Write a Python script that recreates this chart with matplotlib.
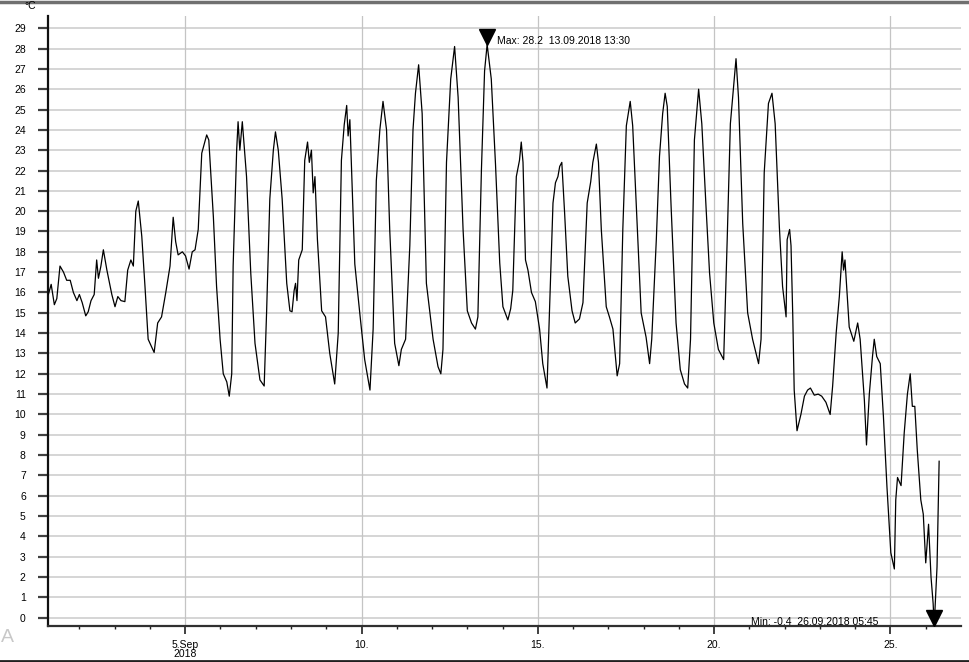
import matplotlib
matplotlib.use("Agg")
import matplotlib.pyplot as plt
from matplotlib.lines import Line2D

plt.rcParams['font.family'] = ['Liberation Sans', 'DejaVu Sans']

# time in fractional day-of-month (September 2018), temperature in °C
days = [1.12, 1.20, 1.29, 1.36, 1.45, 1.55, 1.64, 1.74, 1.83, 1.93, 2.00, 2.08, 2.18, 2.25, 2.33,
        2.42, 2.49, 2.54, 2.61, 2.68, 2.78, 2.92, 3.01, 3.09, 3.18, 3.29, 3.37, 3.46, 3.53, 3.60,
        3.67, 3.77, 3.86, 3.95, 4.03, 4.12, 4.22, 4.33, 4.45, 4.57, 4.66, 4.73, 4.80, 4.92, 5.01,
        5.11, 5.20, 5.28, 5.37, 5.47, 5.61, 5.67, 5.80, 5.89, 5.99, 6.08, 6.18, 6.25, 6.32, 6.36,
        6.46, 6.50, 6.55, 6.62, 6.74, 6.86, 6.98, 7.12, 7.24, 7.31, 7.40, 7.50, 7.56, 7.64, 7.75,
        7.88, 7.97, 8.03, 8.09, 8.13, 8.17, 8.22, 8.32, 8.39, 8.47, 8.52, 8.58, 8.63, 8.68, 8.75,
        8.87, 8.98, 9.10, 9.24, 9.34, 9.43, 9.51, 9.58, 9.62, 9.67, 9.81, 9.95, 10.09, 10.24, 10.33,
        10.42, 10.52, 10.61, 10.71, 10.80, 10.94, 11.06, 11.13, 11.25, 11.37, 11.46, 11.53, 11.62,
        11.72, 11.84, 12.03, 12.17, 12.25, 12.31, 12.41, 12.53, 12.64, 12.74, 12.88, 13.00, 13.12,
        13.23, 13.30, 13.40, 13.49, 13.5625, 13.68, 13.80, 13.92, 14.01, 14.15, 14.23, 14.29, 14.39,
        14.48, 14.53, 14.58, 14.65, 14.72, 14.82, 14.93, 15.05, 15.14, 15.26, 15.33, 15.43, 15.50,
        15.57, 15.62, 15.68, 15.76, 15.85, 15.97, 16.06, 16.18, 16.28, 16.40, 16.50, 16.56, 16.66,
        16.72, 16.80, 16.94, 17.03, 17.13, 17.25, 17.32, 17.41, 17.51, 17.62, 17.69, 17.79, 17.93,
        18.07, 18.17, 18.23, 18.36, 18.45, 18.54, 18.61, 18.67, 18.78, 18.92, 19.04, 19.16, 19.25,
        19.33, 19.44, 19.56, 19.65, 19.77, 19.87, 19.99, 20.12, 20.27, 20.37, 20.46, 20.56, 20.62,
        20.69, 20.81, 20.95, 21.09, 21.26, 21.33, 21.42, 21.54, 21.64, 21.73, 21.85, 21.94, 22.04,
        22.07, 22.14, 22.18, 22.23, 22.27, 22.35, 22.46, 22.56, 22.65, 22.73, 22.84, 22.95, 23.05,
        23.17, 23.29, 23.36, 23.46, 23.55, 23.63, 23.67, 23.71, 23.83, 23.96, 24.07, 24.14, 24.26,
        24.32, 24.40, 24.49, 24.54, 24.61, 24.71, 24.80, 24.90, 25.01, 25.11, 25.15, 25.20, 25.30,
        25.39, 25.48, 25.56, 25.62, 25.69, 25.76, 25.86, 25.93, 26.00, 26.08, 26.15, 26.21, 26.24,
        26.32, 26.38]
temps = [15.9, 16.4, 15.4, 15.7, 17.3, 17.0, 16.6, 16.6, 16.0, 15.6, 15.9, 15.5, 14.85, 15.05, 15.6,
         15.9, 17.6, 16.7, 17.3, 18.1, 17.1, 15.9, 15.3, 15.8, 15.6, 15.55, 17.1, 17.6, 17.3, 20.0,
         20.5, 18.75, 16.3, 13.7, 13.4, 13.05, 14.5, 14.8, 16.0, 17.3, 19.7, 18.5, 17.85, 18.0, 17.8,
         17.15, 18.0, 18.1, 19.1, 22.85, 23.75, 23.5, 19.7, 16.3, 13.7, 12.0, 11.6, 10.9, 12.0, 17.3,
         23.0, 24.4, 23.0, 24.4, 21.7, 16.95, 13.5, 11.7, 11.4, 15.1, 20.6, 23.0, 23.9, 23.0, 20.6,
         16.45, 15.1, 15.05, 16.1, 16.45, 15.6, 17.6, 18.1, 22.5, 23.4, 22.4, 23.0, 20.9, 21.7, 18.6,
         15.1, 14.8, 13.0, 11.5, 14.0, 22.5, 24.25, 25.2, 23.7, 24.5, 17.4, 15.0, 12.7, 11.2, 14.2,
         21.5, 24.0, 25.4, 24.0, 19.1, 13.5, 12.4, 13.2, 13.7, 18.3, 24.0, 25.8, 27.2,
         24.8, 16.45, 13.7, 12.35, 12.0, 13.2, 22.4, 26.5, 28.1, 25.6, 19.1, 15.1, 14.5,
         14.2, 14.8, 22.0, 26.9, 28.2, 26.5, 22.3, 17.45, 15.3, 14.65, 15.2, 16.1, 21.7,
         22.5, 23.4, 22.4, 17.6, 17.1, 16.0, 15.55, 14.2, 12.5, 11.3, 15.0, 20.4, 21.4,
         21.7, 22.2, 22.4, 19.9, 16.8, 15.1, 14.5, 14.7, 15.5, 20.4, 21.45, 22.4, 23.3,
         22.4, 19.1, 15.3, 14.8, 14.2, 11.9, 12.5, 19.1, 24.2, 25.4, 24.2, 20.4, 15.0,
         13.8, 12.5, 13.7, 18.6, 22.7, 24.8, 25.8, 25.15, 20.2, 14.5, 12.2, 11.5, 11.3,
         13.7, 23.5, 26.0, 24.3, 20.2, 16.95, 14.5, 13.2, 12.7, 18.6, 24.3, 26.3, 27.5,
         25.6, 19.4, 15.0, 13.7, 12.5, 13.7, 21.9, 25.3, 25.8, 24.3, 19.2, 16.3, 14.8,
         18.6, 19.1, 18.3, 14.8, 11.2, 9.2, 10.0, 10.9, 11.2, 11.3, 10.95, 11.0, 10.9,
         10.6, 10.0, 11.4, 14.0, 15.8, 18.0, 17.1, 17.6, 14.3, 13.6, 14.5, 13.7, 10.7,
         8.5, 11.0, 12.85, 13.7, 12.85, 12.5, 9.9, 6.45, 3.2, 2.4, 5.8, 6.9, 6.5,
         9.1, 11.0, 12.0, 10.4, 10.4, 8.25, 5.8, 5.1, 2.7, 4.6, 2.0, 0.7, -0.4,
         2.5, 7.7]

yticks = list(range(0, 30))
major_days = [5, 10, 15, 20, 25]
major_labels = ["5.Sep\n2018", "10.", "15.", "20.", "25."]
minor_days = list(range(2, 27))
max_day, max_val, max_text = 13.5625, 28.2, "Max: 28.2  13.09.2018 13:30"
min_day, min_val, min_text = 26.24, -0.4, "Min: -0.4  26.09.2018 05:45"

fig = plt.figure(figsize=(9.7, 6.62), dpi=100)
ax = fig.add_axes([48/970, 1-625.7/662, (961-48)/970, (625.7-16)/662])

ax.set_xlim(1.11, 27.0)
ax.set_ylim(-0.39, 29.6)

for y in yticks:
    ax.axhline(y, color='#d2d2d2', lw=1.3, zorder=1)
for d in major_days:
    ax.axvline(d, color='#c4c4c4', lw=0.9, zorder=1)

ax.plot(days, temps, color='black', lw=0.9, zorder=3)

# max/min markers
ax.plot([max_day], [max_val], marker='v', color='black', markersize=11, zorder=4,
        transform=ax.transData, clip_on=False, linestyle='none')
ax.lines[-1].set_transform(ax.transData + matplotlib.transforms.ScaledTranslation(0, 7/100, fig.dpi_scale_trans))
ax.annotate(max_text, xy=(max_day, max_val), xytext=(10, 3), textcoords='offset pixels',
            fontsize=7.5, va='center', ha='left', zorder=5)
mk = ax.plot([min_day], [min_val], marker='v', color='black', markersize=11, zorder=4,
             clip_on=False, linestyle='none')[0]
mk.set_transform(ax.transData + matplotlib.transforms.ScaledTranslation(0, 8/100, fig.dpi_scale_trans))
ax.annotate(min_text, xy=(min_day, min_val), xytext=(-56, 4), textcoords='offset pixels',
            fontsize=7.5, va='center', ha='right', zorder=5)
ax.plot([26.38, 27.0], [min_val, min_val], color='#f0f07a', lw=1.2, zorder=2, clip_on=False)

ax.set_yticks(yticks)
ax.set_yticklabels([str(v) for v in yticks], fontsize=7.5)
ax.set_xticks(major_days)
ax.set_xticklabels(major_labels, fontsize=7.5, linespacing=0.95)
ax.set_xticks(minor_days, minor=True)
ax.tick_params(axis='y', direction='out', length=7, width=1.6, color='#404040', pad=9)
ax.tick_params(axis='x', which='major', direction='out', length=6, width=1.2, color='#202020', pad=4)
ax.tick_params(axis='x', which='minor', direction='out', length=2.5, width=1.0, color='#202020')

for s in ['top', 'right']:
    ax.spines[s].set_visible(False)
ax.spines['left'].set_linewidth(1.6)
ax.spines['bottom'].set_linewidth(1.6)
ax.spines['left'].set_color('#101010')
ax.spines['bottom'].set_color('#303030')

fig.text(30/970, 1-6/662, "°C", fontsize=7.5, ha='center', va='center')
fig.text(1/970, 1-638/662, "A", fontsize=14, color='#c8c8c8', ha='left', va='center')

fig.add_artist(Line2D([0, 1], [1-1.5/662, 1-1.5/662], color='#707070', lw=2.5, transform=fig.transFigure))
fig.add_artist(Line2D([0, 1], [1-660.5/662, 1-660.5/662], color='#202020', lw=2, transform=fig.transFigure))

fig.savefig("out.png", dpi=100)
